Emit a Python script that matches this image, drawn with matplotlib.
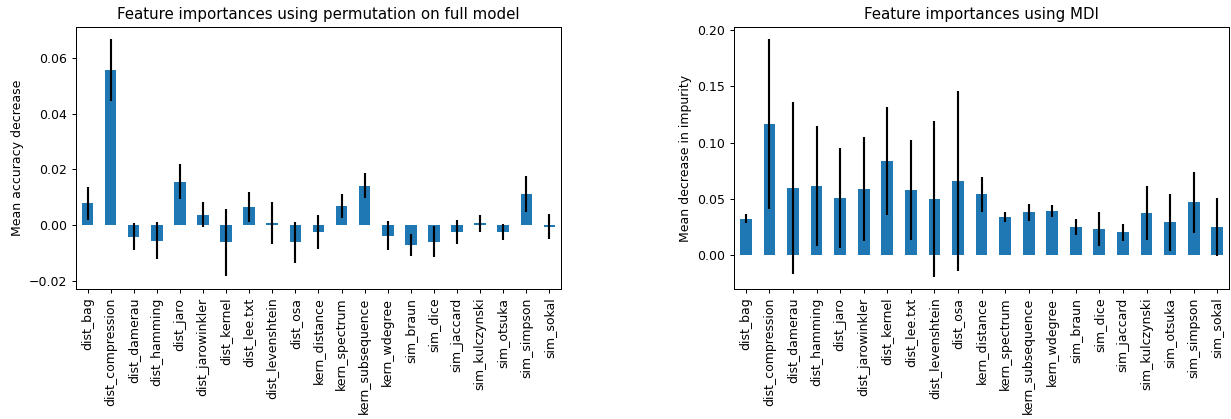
import numpy as np
import matplotlib
matplotlib.use('Agg')
import matplotlib.pyplot as plt

features = ['dist_bag', 'dist_compression', 'dist_damerau', 'dist_hamming',
            'dist_jaro', 'dist_jarowinkler', 'dist_kernel', 'dist_lee.txt',
            'dist_levenshtein', 'dist_osa', 'kern_distance', 'kern_spectrum',
            'kern_subsequence', 'kern_wdegree', 'sim_braun', 'sim_dice',
            'sim_jaccard', 'sim_kulczynski', 'sim_otsuka', 'sim_simpson',
            'sim_sokal']

# permutation importances (mean, std)
perm_mean = [0.0078, 0.0557, -0.0042, -0.0056, 0.0156, 0.0036, -0.0063, 0.0065,
             0.0006, -0.0063, -0.0025, 0.0068, 0.0140, -0.0038, -0.0072, -0.0060,
             -0.0025, 0.0006, -0.0025, 0.0111, -0.0006]
perm_std = [0.0060, 0.0111, 0.0048, 0.0068, 0.0062, 0.0045, 0.0122, 0.0055,
            0.0075, 0.0074, 0.0062, 0.0042, 0.0045, 0.0052, 0.0038, 0.0056,
            0.0044, 0.0030, 0.0029, 0.0065, 0.0044]

# MDI importances (mean, std)
mdi_mean = [0.0322, 0.1163, 0.0595, 0.0612, 0.0506, 0.0586, 0.0834, 0.0577,
            0.0497, 0.0657, 0.0538, 0.0337, 0.0379, 0.0393, 0.0249, 0.0234,
            0.0201, 0.0370, 0.0290, 0.0467, 0.0249]
mdi_std = [0.0040, 0.0754, 0.0766, 0.0536, 0.0444, 0.0463, 0.0482, 0.0447,
           0.0690, 0.0800, 0.0158, 0.0044, 0.0078, 0.0055, 0.0075, 0.0152,
           0.0074, 0.0241, 0.0250, 0.0269, 0.0262]

# render at 90 dpi so text is a bit smaller, like the original screenshot
dpi = 90
fig = plt.figure(figsize=(1231 / dpi, 419 / dpi), dpi=dpi)
ax1 = fig.add_axes([0.0617, 0.3103, 0.394, 0.6253])
ax2 = fig.add_axes([0.5963, 0.3103, 0.4021, 0.6253])

x = np.arange(len(features))

ax1.bar(x, perm_mean, width=0.5, color='#1f77b4', yerr=perm_std,
        error_kw=dict(ecolor='black', elinewidth=1.7, capsize=0))
ax1.set_title('Feature importances using permutation on full model')
ax1.set_ylabel('Mean accuracy decrease')
ax1.set_ylim(-0.0230, 0.0711)
ax1.set_xlim(-0.5, len(features) - 0.5)

ax2.bar(x, mdi_mean, width=0.5, color='#1f77b4', yerr=mdi_std,
        error_kw=dict(ecolor='black', elinewidth=1.7, capsize=0))
ax2.set_title('Feature importances using MDI')
ax2.set_ylabel('Mean decrease in impurity')
ax2.set_ylim(-0.0302, 0.2027)
ax2.set_xlim(-0.5, len(features) - 0.5)

for ax in (ax1, ax2):
    ax.set_xticks(x)
    ax.set_xticklabels(features, rotation=90)

fig.savefig('out.png', dpi=dpi)
